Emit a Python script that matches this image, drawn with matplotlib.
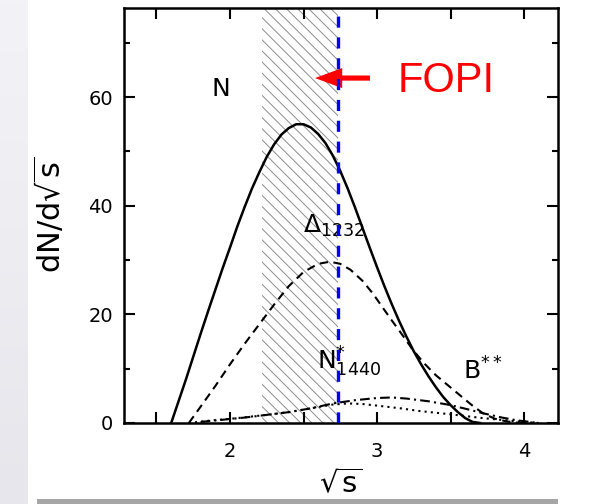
import numpy as np
import matplotlib
matplotlib.use("Agg")
import matplotlib.pyplot as plt
from matplotlib.patches import Rectangle

plt.rcParams['lines.scale_dashes'] = False
plt.rcParams['hatch.linewidth'] = 0.7
plt.rcParams['hatch.color'] = '#8c8c8c'
plt.rcParams['mathtext.fontset'] = 'dejavusans'

# nucleon (solid)
n_x = [1.60, 1.65, 1.70, 1.75, 1.80, 1.85, 1.90, 1.95, 2.00, 2.05, 2.10, 2.15,
       2.20, 2.25, 2.30, 2.35, 2.40, 2.45, 2.50, 2.55, 2.60, 2.65, 2.70, 2.75,
       2.80, 2.85, 2.90, 2.95, 3.00, 3.05, 3.10, 3.15, 3.20, 3.25, 3.30, 3.35,
       3.40, 3.45, 3.50, 3.55, 3.60, 3.65, 3.70]
n_y = [0.0, 4.0, 8.0, 12.2, 16.4, 20.5, 24.5, 28.5, 32.3, 36.2, 39.8, 43.2,
       46.2, 49.0, 51.3, 53.1, 54.3, 55.0, 55.0, 54.4, 53.2, 51.5, 49.2, 46.4,
       43.2, 39.7, 36.0, 32.3, 28.7, 25.2, 21.9, 18.8, 15.9, 13.2, 10.8, 8.6,
       6.6, 4.8, 3.3, 2.0, 0.9, 0.2, 0.0]

# Delta(1232) (dashed)
d_x = [1.72, 1.80, 1.90, 2.00, 2.10, 2.20, 2.30, 2.40, 2.50, 2.60, 2.68, 2.75,
       2.82, 2.90, 2.97, 3.04, 3.10, 3.17, 3.24, 3.32, 3.40, 3.48, 3.56, 3.64,
       3.72, 3.80, 3.88, 3.96, 4.02]
d_y = [0.0, 3.0, 6.8, 10.8, 14.6, 18.2, 21.8, 25.2, 27.8, 29.3, 29.7, 29.3,
       28.2, 26.2, 23.9, 21.2, 18.9, 16.3, 13.6, 11.0, 8.8, 7.0, 5.2, 3.4,
       1.8, 0.8, 0.3, 0.05, 0.0]

# N*(1440) (dash-dot)
s_x = [1.80, 1.95, 2.10, 2.25, 2.40, 2.55, 2.70, 2.85, 3.00, 3.10, 3.20, 3.35,
       3.50, 3.62, 3.72, 3.85, 3.95, 4.10]
s_y = [0.2, 0.6, 1.0, 1.5, 2.0, 2.7, 3.6, 4.2, 4.6, 4.7, 4.5, 4.0,
       3.3, 2.5, 1.8, 1.0, 0.5, 0.0]

# B** (dotted)
b_x = [1.72, 1.85, 2.05, 2.25, 2.40, 2.55, 2.70, 2.80, 2.90, 3.00, 3.16, 3.29,
       3.50, 3.72, 3.95, 4.10]
b_y = [0.0, 0.4, 0.9, 1.5, 2.0, 2.7, 3.4, 3.6, 3.5, 3.2, 2.7, 2.2,
       1.6, 0.9, 0.3, 0.0]

band_lo, band_hi = 2.22, 2.735
fopi_cut = 2.735

x_major = [2, 3, 4]
x_minor = [1.5, 2.5, 3.5]
y_major = [0, 20, 40, 60]
y_minor = [10, 30, 50, 70]

fig = plt.figure(figsize=(5.95, 5.04), dpi=100)

# light page strip on the left and grey bar at the bottom
strip = fig.add_axes([0, 0, 28 / 595, 1])
strip.imshow(np.linspace(0, 1, 100).reshape(-1, 1), aspect='auto',
             cmap=matplotlib.colors.LinearSegmentedColormap.from_list(
                 'g', ['#f3f3f7', '#e6e6ec']), extent=[0, 1, 0, 1])
strip.axis('off')

ax = fig.add_axes([124 / 595, 81 / 504, 434 / 595, 415 / 504])
ax.set_xlim(1.279, 4.231)
ax.set_ylim(0, 76.4)

ax.axvspan(band_lo, band_hi, facecolor='none', edgecolor='#8c8c8c',
           hatch='\\\\\\', linewidth=0, zorder=1)

ax.plot(n_x, n_y, color='black', lw=1.8, zorder=3)
ax.plot(d_x, d_y, color='black', lw=1.5, linestyle=(0, (6, 4)), zorder=3)
ax.plot(s_x, s_y, color='black', lw=1.5, linestyle=(0, (7, 3, 1.5, 3)), zorder=3)
ax.plot(b_x, b_y, color='black', lw=1.5, linestyle=(0, (1.5, 3)), zorder=3)

ax.arrow(2.952, 63.5, 2.578 - 2.952, 0, width=0.95, head_width=3.7,
         head_length=0.185, length_includes_head=True, color='red',
         linewidth=0, zorder=4)
ax.axvline(fopi_cut, color='#0000ff', lw=2.4, linestyle=(0, (8, 7)), zorder=5)

fig.text(398 / 595, 1 - 81 / 504, 'FOPI', color='red', fontsize=30,
         family='Liberation Sans', ha='left', va='center')
ax.text(1.94, 61.5, 'N', fontsize=18, ha='center', va='center')
ax.text(2.497, 35.0, r'$\Delta_{1232}$', fontsize=18, ha='left', va='baseline')
ax.text(2.59, 9.8, r'$\mathrm{N}^{*}_{1440}$', fontsize=18, ha='left', va='baseline')
ax.text(3.585, 7.9, r'$\mathrm{B}^{**}$', fontsize=18, ha='left', va='baseline')

for s in ax.spines.values():
    s.set_linewidth(1.8)
ax.set_xticks(x_major)
ax.set_xticks(x_minor, minor=True)
ax.set_yticks(y_major)
ax.set_yticks(y_minor, minor=True)
ax.tick_params(axis='both', which='both', direction='in', top=True, right=True,
               width=1.5, labelsize=14)
ax.tick_params(axis='x', which='both', length=8, pad=14)
ax.tick_params(axis='y', which='major', length=8, pad=8)
ax.tick_params(axis='y', which='minor', length=4.5)

fig.text(50 / 595, 1 - 215 / 504, r'$\mathrm{dN/d}\sqrt{\mathrm{s}}$', rotation=90,
         fontsize=22, ha='center', va='center')
fig.text(341 / 595, 1 - 484 / 504, r'$\sqrt{\mathrm{s}}$', fontsize=21,
         ha='center', va='center')

fig.add_artist(Rectangle((37 / 595, 0), 521 / 595, 5 / 504, transform=fig.transFigure,
                         facecolor='#a6a6a6', edgecolor='none', zorder=10))

fig.savefig('out.png', dpi=100)
